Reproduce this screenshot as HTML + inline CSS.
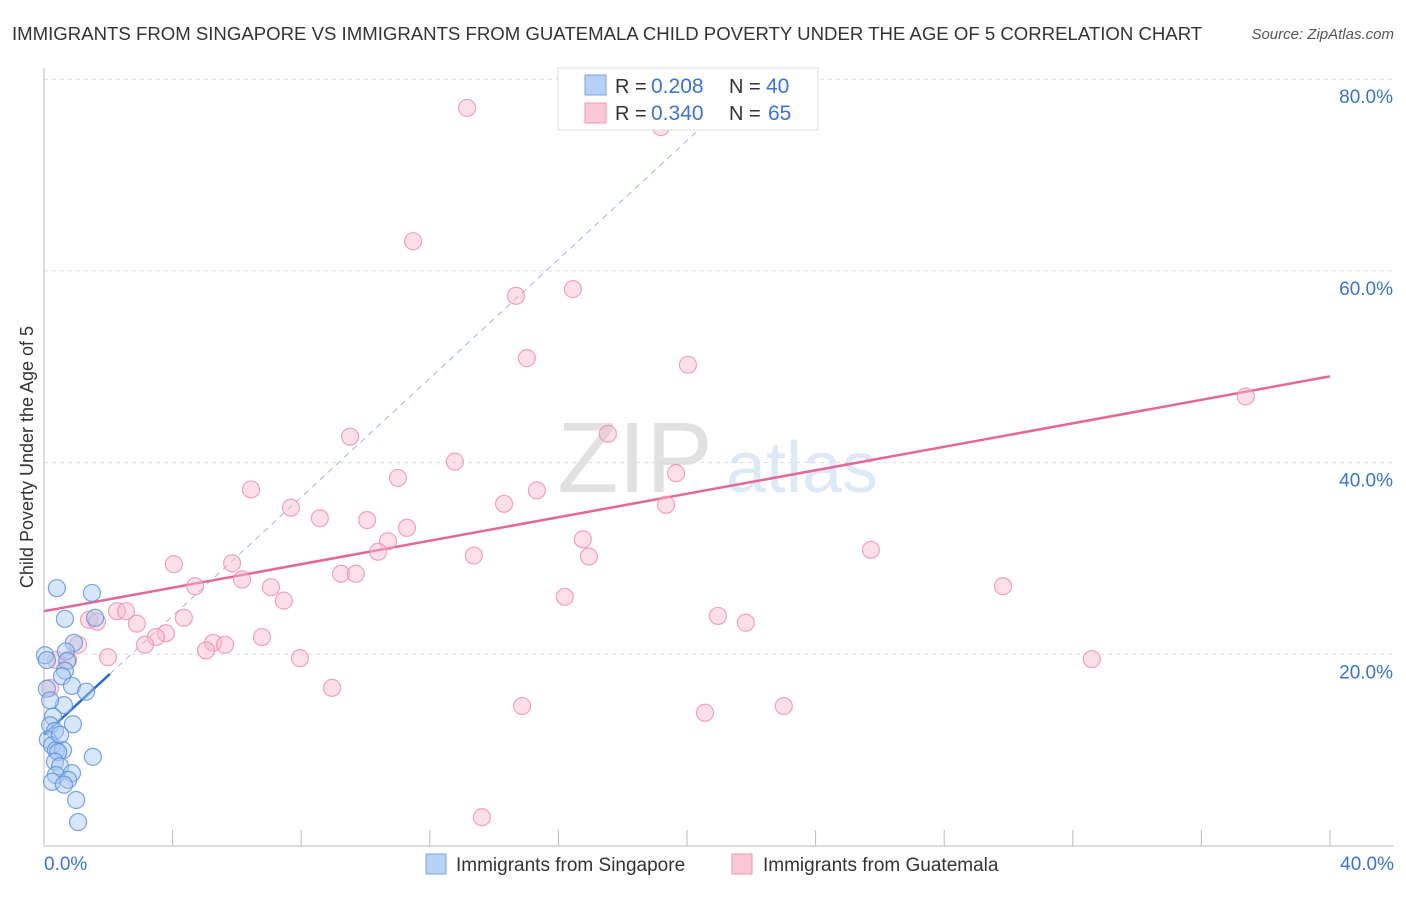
<!DOCTYPE html>
<html><head><meta charset="utf-8"><style>
body{margin:0;background:#fff;font-family:"Liberation Sans",sans-serif;}
svg text{font-family:"Liberation Sans",sans-serif;}
</style></head><body>
<svg id="chart" width="1406" height="892">
<text x="12" y="40" font-size="18.6" fill="#333">IMMIGRANTS FROM SINGAPORE VS IMMIGRANTS FROM GUATEMALA CHILD POVERTY UNDER THE AGE OF 5 CORRELATION CHART</text>
<text x="1394" y="39" font-size="15" fill="#555" text-anchor="end" font-style="italic">Source: ZipAtlas.com</text>
<text x="33" y="457" font-size="18" fill="#333" text-anchor="middle" transform="rotate(-90 33 457)">Child Poverty Under the Age of 5</text>
<g><text x="635" y="492" font-size="100" fill="#d8d8d8" font-family="Liberation Serif" text-anchor="middle" opacity="0.75">ZIP</text><text x="802" y="492" font-size="72" fill="#c9dcf2" text-anchor="middle" opacity="0.6">atlas</text></g>
<g id="grid"></g><g id="axes"></g><g id="trend"></g><g id="pts"></g>
<g>
<rect x="558" y="68" width="260" height="62" fill="#fff" stroke="#ddd"/>
<rect x="585" y="75" width="21" height="20" fill="#b7d0f5" stroke="#7ea6e0"/>
<rect x="585" y="103" width="21" height="20" fill="#fbc8d8" stroke="#ee99b4"/>
<text x="615" y="93" font-size="20" fill="#333">R =</text><text x="651" y="93" font-size="21" fill="#3b73d1">0.208</text>
<text x="729" y="93" font-size="20" fill="#333">N =</text><text x="766" y="93" font-size="21" fill="#3b73d1">40</text>
<text x="615" y="120" font-size="20" fill="#333">R =</text><text x="651" y="120" font-size="21" fill="#3b73d1">0.340</text>
<text x="729" y="120" font-size="20" fill="#333">N =</text><text x="768" y="120" font-size="21" fill="#3b73d1">65</text>
</g>
<g>
<rect x="426" y="854" width="20" height="20" fill="#b7d0f5" stroke="#7ea6e0"/>
<text x="456" y="871" font-size="19" fill="#333">Immigrants from Singapore</text>
<rect x="732" y="854" width="20" height="20" fill="#fbc8d8" stroke="#ee99b4"/>
<text x="763" y="871" font-size="19" fill="#333">Immigrants from Guatemala</text>
</g>
</svg>
<script>
const yTicks=[20,40,60,80];
const yTickLabels=["20.0%","40.0%","60.0%","80.0%"];
const xTickLabels=["0.0%","40.0%"];
const singaporeX=[0.40,1.49,0.65,1.59,0.93,0.03,0.68,0.72,0.65,0.56,0.09,0.87,1.31,0.62,0.28,0.90,0.19,0.34,0.12,0.25,0.37,0.59,0.44,1.52,0.34,0.50,0.87,0.37,0.75,0.25,0.62,1.00,1.06,0.09,0.19,0.50];
const singaporeY=[26.9,26.4,23.7,23.8,21.2,19.9,20.3,19.3,18.3,17.7,16.4,16.7,16.1,14.7,13.5,12.7,12.6,12.0,11.1,10.5,10.0,10.0,9.8,9.3,8.8,8.3,7.6,7.4,6.9,6.7,6.4,4.8,2.5,19.4,15.2,11.6];
const guatemalaX=[13.16,19.19,23.70,11.48,14.68,16.45,15.02,20.03,37.38,17.54,9.52,12.78,19.66,6.44,11.01,15.33,7.68,14.31,19.35,8.58,10.05,11.29,10.70,16.76,10.39,13.37,16.95,25.72,4.04,5.85,9.24,9.70,4.70,6.16,7.06,29.83,7.46,16.20,2.27,2.55,1.40,1.65,2.89,4.35,20.96,21.83,3.79,3.48,3.14,5.26,5.63,5.04,6.78,1.06,1.99,7.96,0.75,0.37,32.59,8.96,14.87,20.56,23.01,13.62,0.19];
const guatemalaY=[77.0,75.0,76.7,63.1,57.4,58.1,50.9,50.2,46.9,43.0,42.7,40.1,38.9,37.2,38.4,37.1,35.3,35.7,35.6,34.2,34.0,33.2,31.8,32.0,30.7,30.3,30.2,30.9,29.4,29.5,28.4,28.4,27.1,27.8,27.0,27.1,25.6,26.0,24.5,24.5,23.6,23.4,23.2,23.8,24.0,23.3,22.2,21.8,21.0,21.2,21.0,20.4,21.8,21.0,19.7,19.6,19.4,19.4,19.5,16.5,14.6,13.9,14.6,3.0,16.5];
const blueTrend=[11.6,3.1];
const pinkTrend=[24.5,0.6125];
const blueSolidEnd=2.05;

const NS="http://www.w3.org/2000/svg";
const X=v=>44+v/40*1286;
const Y=v=>846-v/20*191.7;
function mk(tag,parent,attrs){const e=document.createElementNS(NS,tag);for(const k in attrs)e.setAttribute(k,attrs[k]);document.getElementById(parent).appendChild(e);return e;}
yTicks.forEach((t,i)=>{
 const g=mk('line','grid',{x1:44,x2:1394,y1:Y(t),y2:Y(t),stroke:'#ddd','stroke-dasharray':'4,4'});
 
 
 const l=mk('text','grid',{x:1393,y:Y(t)+24,'font-size':19,fill:'#3b73d1','text-anchor':'end'});l.textContent=yTickLabels[i];
 
 
});
let a=mk('line','axes',{x1:44,x2:44,y1:68,y2:846,stroke:'#bbb'});


a=mk('line','axes',{x1:44,x2:1394,y1:846,y2:846,stroke:'#bbb'});


for(let i=1;i<=10;i++){const t=mk('line','axes',{x1:X(i*4),x2:X(i*4),y1:830,y2:846,stroke:'#bbb'});
 
 }
[[0,'start',44],[40,'end',1394]].forEach((d,i)=>{const t=mk('text','axes',{x:d[2],y:870,'font-size':19,fill:'#3b73d1','text-anchor':d[1]});t.textContent=xTickLabels[i];
 
 });
function dots(xs,ys,fill,stroke,name){xs.forEach((x,i)=>{const c=mk('circle','pts',{cx:X(x),cy:Y(ys[i]),r:8.5,fill:fill,'fill-opacity':0.45,stroke:stroke,'stroke-opacity':0.8,'stroke-width':1.2});
 
 });}
dots(guatemalaX,guatemalaY,'#f9b9cd','#ec8fae','guatemala-point');
dots(singaporeX,singaporeY,'#a9c7f2','#5b90da','singapore-point');
const xTop=(80-blueTrend[0])/blueTrend[1];
let t=mk('line','trend',{x1:X(blueSolidEnd),y1:Y(blueTrend[0]+blueTrend[1]*blueSolidEnd),x2:X(xTop),y2:Y(80),stroke:'#9db8e0','stroke-dasharray':'6,5','stroke-width':1});


t=mk('line','trend',{x1:X(0),y1:Y(blueTrend[0]),x2:X(blueSolidEnd),y2:Y(blueTrend[0]+blueTrend[1]*blueSolidEnd),stroke:'#2a6dd0','stroke-width':2.5});


t=mk('line','trend',{x1:X(0),y1:Y(pinkTrend[0]),x2:X(40),y2:Y(pinkTrend[0]+pinkTrend[1]*40),stroke:'#e4679a','stroke-width':2.5});


</script>
</body></html>
